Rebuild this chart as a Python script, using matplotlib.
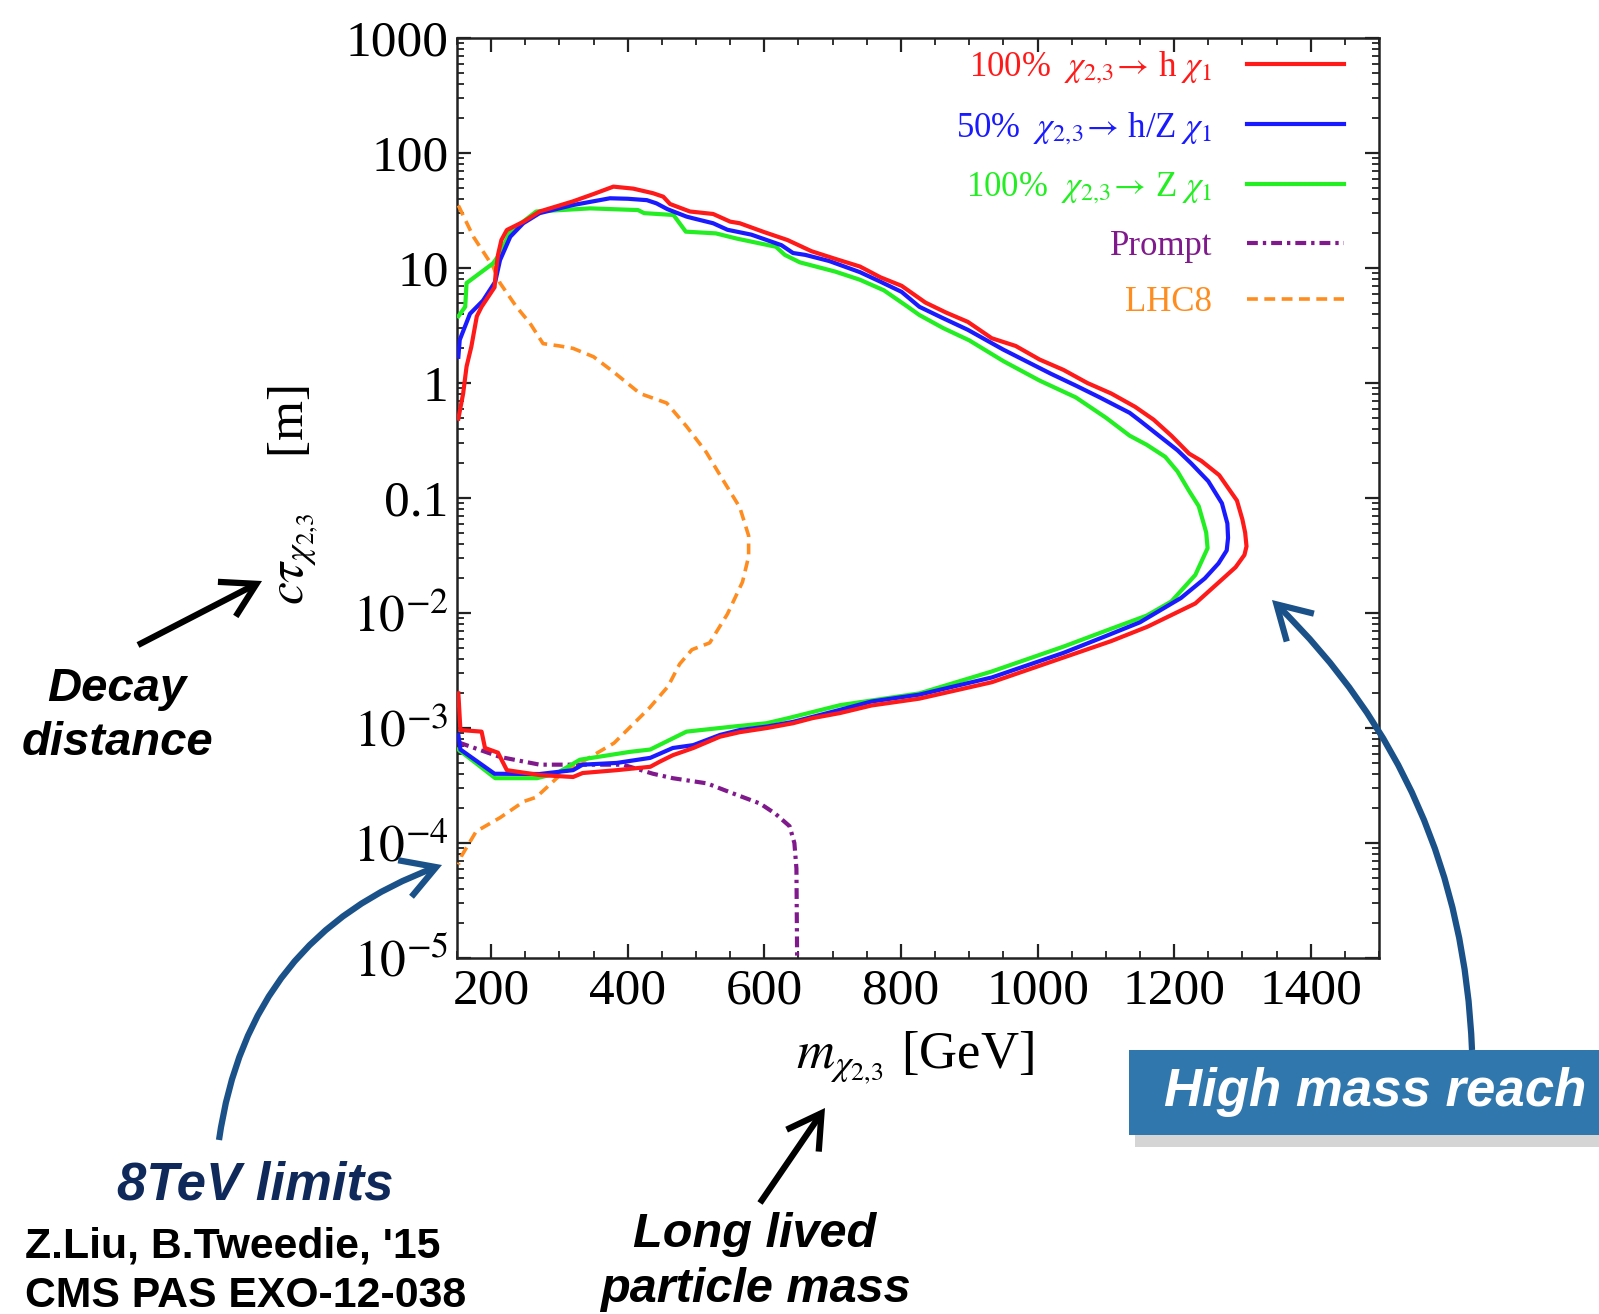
import numpy as np
import matplotlib
matplotlib.use("Agg")
import matplotlib.pyplot as plt
from matplotlib.patches import FancyArrowPatch, Rectangle
from matplotlib.ticker import MultipleLocator, LogLocator, NullFormatter

# ---------------- data ----------------
# 100% chi -> h chi1 (red): lower branch left->right, then upper branch right->left
red_lo_x = [152, 155, 186, 191, 210, 223, 271, 320, 334, 384, 433, 447, 466, 496, 535,
            564, 604, 642, 671, 711, 757, 827, 933, 1038, 1108, 1161, 1231, 1266, 1290, 1303]
red_lo_y = [2.0e-3, 9.6e-4, 9.3e-4, 6.7e-4, 6.1e-4, 4.3e-4, 3.9e-4, 3.75e-4, 4.06e-4, 4.3e-4,
            4.6e-4, 5.1e-4, 5.8e-4, 6.7e-4, 8.4e-4, 9.2e-4, 1.0e-3, 1.1e-3, 1.22e-3, 1.35e-3,
            1.57e-3, 1.8e-3, 2.5e-3, 4.1e-3, 5.7e-3, 7.6e-3, 0.0121, 0.0186, 0.025, 0.032]
red_up_x = [1306, 1304, 1300, 1292, 1266, 1240, 1222, 1196, 1170, 1143, 1108, 1073, 1038, 1003,
            968, 933, 898, 866, 836, 801, 770, 740, 704, 669, 634, 600, 564, 550, 525, 491,
            462, 452, 437, 408, 379, 350, 320, 271, 247, 223, 215, 210, 207, 205, 186, 179,
            171, 164, 159, 152]
red_up_y = [0.038, 0.05, 0.065, 0.095, 0.158, 0.21, 0.243, 0.348, 0.48, 0.62, 0.81, 1.0, 1.3,
            1.6, 2.1, 2.45, 3.4, 4.1, 5.0, 7.0, 8.3, 10.3, 12.0, 14.0, 17.5, 20.5, 24.5, 25.3,
            29.5, 31, 36, 41.7, 44.7, 49, 51, 44, 38, 31, 25.2, 21.4, 17.5, 13, 9.5, 6.8, 4.6,
            3.8, 2.07, 1.39, 0.81, 0.49]

# 50% chi -> h/Z chi1 (blue)
blue_lo_x = [152, 155, 205, 271, 320, 334, 384, 433, 466, 496, 535, 564, 604, 642, 711, 757,
             827, 933, 1038, 1100, 1150, 1210, 1245, 1265, 1277]
blue_lo_y = [8.7e-4, 6.5e-4, 4.0e-4, 3.98e-4, 4.3e-4, 4.8e-4, 4.97e-4, 5.5e-4, 6.7e-4, 7.1e-4,
             8.7e-4, 9.6e-4, 1.03e-3, 1.13e-3, 1.44e-3, 1.7e-3, 1.95e-3, 2.75e-3, 4.5e-3,
             6.3e-3, 8.3e-3, 0.0135, 0.02, 0.027, 0.035]
blue_up_x = [1279, 1278, 1270, 1250, 1225, 1205, 1180, 1150, 1135, 1091, 1056, 1020, 1003, 950,
             898, 860, 827, 801, 770, 740, 695, 660, 642, 625, 581, 546, 525, 494, 486, 458,
             442, 428, 400, 374, 320, 271, 247, 228, 213, 206, 188, 169, 154, 152]
blue_up_y = [0.045, 0.06, 0.09, 0.14, 0.2, 0.26, 0.34, 0.47, 0.55, 0.75, 0.95, 1.2, 1.35, 1.95,
             2.9, 3.7, 4.6, 6.2, 7.6, 9.2, 11.5, 13.0, 13.5, 15.8, 19.5, 21.5, 24.5, 27.2, 28,
             32.5, 36.5, 38.9, 40, 40.4, 35.3, 30, 24.5, 18.7, 11.7, 7.6, 5.2, 4.0, 2.37, 1.69]

# 100% chi -> Z chi1 (green)
green_lo_x = [152, 206, 267, 296, 330, 403, 433, 486, 555, 603, 633, 711, 827, 933, 1038, 1108,
              1160, 1196, 1231, 1249]
green_lo_y = [6.5e-4, 3.66e-4, 3.66e-4, 4.04e-4, 5.3e-4, 6.2e-4, 6.5e-4, 9.3e-4, 1.03e-3,
              1.1e-3, 1.21e-3, 1.58e-3, 2.0e-3, 3.1e-3, 5.1e-3, 7.3e-3, 9.5e-3, 0.0126, 0.0214,
              0.0366]
green_up_x = [1249, 1247, 1244, 1236, 1222, 1205, 1187, 1160, 1135, 1100, 1056, 1003, 950, 900,
              862, 827, 810, 775, 740, 704, 652, 630, 617, 560, 529, 485, 467, 424, 415, 345,
              266, 228, 213, 203, 164, 162, 152]
green_up_y = [0.0366, 0.05, 0.058, 0.085, 0.115, 0.17, 0.228, 0.29, 0.348, 0.5, 0.75, 1.05,
              1.55, 2.35, 3.0, 3.9, 4.6, 6.4, 7.9, 9.3, 11.2, 13, 15.3, 18, 20, 20.7, 28.9, 30,
              31.9, 33, 31, 20.7, 13.4, 11, 7.4, 4.6, 3.8]

# Prompt limit (purple dash-dot)
prompt_x = [152, 213, 271, 320, 393, 437, 466, 516, 554, 594, 616, 637, 644, 647, 648]
prompt_y = [7.5e-4, 5.6e-4, 4.8e-4, 4.8e-4, 4.8e-4, 4.0e-4, 3.66e-4, 3.3e-4, 2.7e-4, 2.2e-4,
            1.8e-4, 1.4e-4, 1.0e-4, 6e-5, 1e-5]

# LHC8 limit (orange dashed)
lhc8_x = [152, 174, 203, 213, 237, 257, 276, 300, 320, 350, 379, 418, 457, 486, 515, 538, 564,
          577, 577, 568, 546, 520, 494, 476, 459, 432, 380, 336, 301, 266, 248, 213, 178, 156,
          152]
lhc8_y = [35, 18.7, 10.2, 7.4, 4.6, 3.3, 2.2, 2.1, 2.0, 1.69, 1.25, 0.81, 0.67, 0.42, 0.25,
          0.148, 0.083, 0.047, 0.031, 0.0186, 9.8e-3, 5.5e-3, 4.8e-3, 3.6e-3, 2.3e-3, 1.5e-3,
          7.4e-4, 5.2e-4, 3.9e-4, 2.5e-4, 2.3e-4, 1.66e-4, 1.26e-4, 7.6e-5, 6.5e-5]

xticks = [200, 400, 600, 800, 1000, 1200, 1400]
yticks = [1e-5, 1e-4, 1e-3, 1e-2, 0.1, 1, 10, 100, 1000]
ytick_labels = [r'$10^{-5}$', r'$10^{-4}$', r'$10^{-3}$', r'$10^{-2}$',
                '0.1', '1', '10', '100', '1000']

labels = [r'100% $\ \chi_{2,\!3}\!\rightarrow\!$ h $\chi_1$',
          r'50% $\ \chi_{2,\!3}\!\rightarrow\!$ h/Z $\chi_1$',
          r'100% $\ \chi_{2,\!3}\!\rightarrow\!$ Z $\chi_1$',
          'Prompt', 'LHC8']

# ---------------- figure ----------------
W, H = 1599, 1314
plt.rcParams['font.family'] = 'serif'
plt.rcParams['font.serif'] = ['Liberation Serif', 'DejaVu Serif']
plt.rcParams['mathtext.fontset'] = 'stix'


def fx(x):
    return x / W


def fy(y):
    return 1 - y / H


fig = plt.figure(figsize=(W / 100, H / 100), dpi=100)
ax = fig.add_axes([fx(457), fy(958), 922 / W, 920 / H])

ax.plot(red_lo_x + red_up_x, red_lo_y + red_up_y, color='#ff1a1a', lw=3, label=labels[0], zorder=6)
ax.plot(blue_lo_x + blue_up_x, blue_lo_y + blue_up_y, color='#1a1aff', lw=3, label=labels[1], zorder=5)
ax.plot(green_lo_x + green_up_x, green_lo_y + green_up_y, color='#22ee22', lw=3, label=labels[2], zorder=4)
ax.plot(prompt_x, prompt_y, color='#801a8c', lw=3, ls=(0, (2.6, 1.2, 0.8, 1.2)), label=labels[3], zorder=3)
ax.plot(lhc8_x, lhc8_y, color='#ff8c1f', lw=2.6, ls=(0, (3, 1.8)), label=labels[4], zorder=3)

ax.set_yscale('log')
ax.set_xlim(150, 1500)
ax.set_ylim(1e-5, 1e3)
ax.set_xticks(xticks)
ax.set_xticklabels([str(v) for v in xticks])
ax.xaxis.set_minor_locator(MultipleLocator(50))
ax.set_yticks(yticks)
ax.set_yticklabels(ytick_labels)
ax.yaxis.set_minor_locator(LogLocator(base=10, subs=np.arange(2, 10), numticks=30))
ax.yaxis.set_minor_formatter(NullFormatter())

ax.tick_params(which='both', direction='in', top=True, right=True, color='#222222')
ax.tick_params(which='major', length=10, width=1.6, labelsize=37)
ax.tick_params(which='minor', length=5, width=1.3)
ax.tick_params(axis='y', which='major', pad=6)
ax.tick_params(axis='x', which='major', pad=7)
for s in ax.spines.values():
    s.set_linewidth(1.8)
    s.set_color('#222222')

leg = ax.legend(loc='upper right', bbox_to_anchor=(0.962, 0.988), frameon=False,
                markerfirst=False, fontsize=25, handlelength=2.8, handletextpad=1.0,
                labelspacing=0.68, labelcolor='linecolor', borderaxespad=0, borderpad=0)

# axis titles
fig.text(fx(915), fy(1058), r'$m_{\chi_{2,\!3}}$ [GeV]', ha='center', va='center', fontsize=38)
fig.text(fx(294), fy(495), r'$c\tau_{\chi_{2,\!3}}$    [m]', ha='center', va='center',
         fontsize=37, rotation=90)

# ---------------- slide annotations ----------------
sans = dict(family='Liberation Sans', weight='bold')
fig.text(fx(117), fy(716), 'Decay\ndistance', ha='center', va='center', fontsize=34,
         style='italic', linespacing=1.3, **sans)
fig.text(fx(255), fy(1185), '8TeV limits', ha='center', va='center', fontsize=38,
         style='italic', color='#0f2a5a', **sans)
fig.text(fx(25), fy(1247), "Z.Liu, B.Tweedie, '15", ha='left', va='center', fontsize=30.8, **sans)
fig.text(fx(25), fy(1296), 'CMS PAS EXO-12-038', ha='left', va='center', fontsize=30.8, **sans)
fig.text(fx(755), fy(1262), 'Long lived\nparticle mass', ha='center', va='center', fontsize=35,
         style='italic', linespacing=1.28, **sans)

# box "High mass reach"
fig.add_artist(Rectangle((fx(1135), fy(1147)), (W - 1135) / W, 16 / H, transform=fig.transFigure,
                         color='#888888', alpha=0.35, lw=0))
fig.add_artist(Rectangle((fx(1129), fy(1135)), (W - 1129) / W, 85 / H, transform=fig.transFigure,
                         color='#2f77ad', lw=0))
fig.text(fx(1375), fy(1092), 'High mass reach', ha='center', va='center', fontsize=38,
         style='italic', color='white', **sans)

# arrows
def arrow(p0, p1, color, rad=0.0):
    a = FancyArrowPatch((fx(p0[0]), fy(p0[1])), (fx(p1[0]), fy(p1[1])),
                        transform=fig.transFigure, arrowstyle='->,head_length=0.6,head_width=0.35',
                        mutation_scale=40, lw=4.5, color=color, shrinkA=0, shrinkB=0,
                        connectionstyle=f'arc3,rad={rad}', capstyle='butt', joinstyle='miter')
    fig.add_artist(a)


arrow((138, 645), (262, 581), 'black')
arrow((760, 1203), (825, 1108), 'black')
arrow((219, 1140), (442, 865), '#1b5189', rad=-0.3)
arrow((1472, 1050), (1272, 600), '#1b5189', rad=0.2)

fig.savefig('out.png', dpi=100)
